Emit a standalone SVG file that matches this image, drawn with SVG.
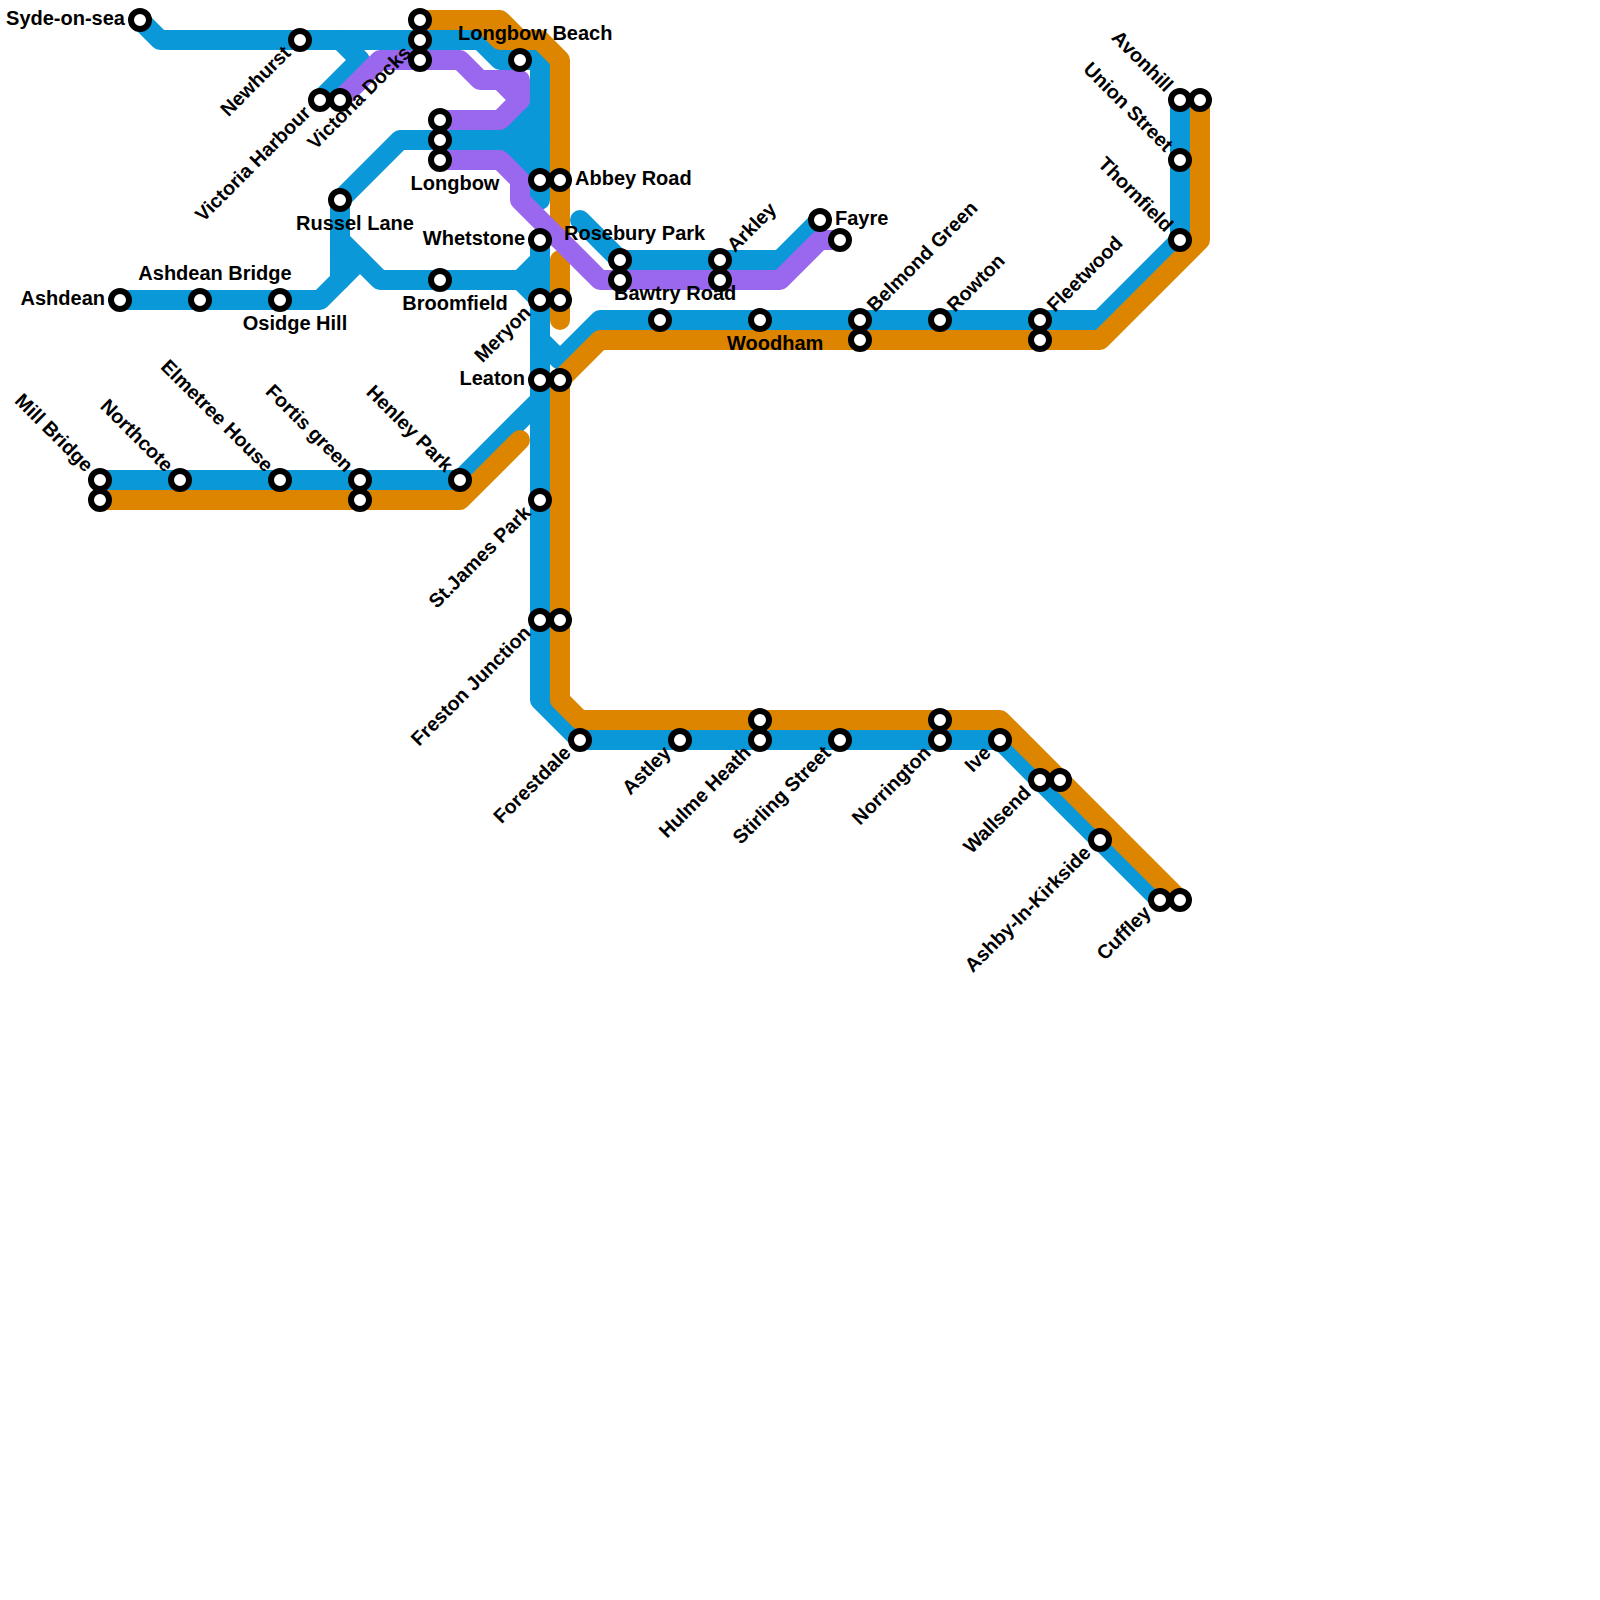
<svg xmlns="http://www.w3.org/2000/svg" width="1600" height="1600" viewBox="0 0 1600 1600">
<style>
.l{fill:none;stroke-width:20;stroke-linecap:round;stroke-linejoin:round}
.b{stroke:#0a98d8}.o{stroke:#de8500}.p{stroke:#9a68ee}
circle{fill:#fff;stroke:#000;stroke-width:6}
text{font-family:"Liberation Sans",Arial,sans-serif;font-weight:700;font-size:20px;fill:#000}
text[transform]{font-size:19.7px}
.e{text-anchor:end}.m{text-anchor:middle}
</style>
<rect width="1600" height="1600" fill="#fff"/>
<g id="connectors">
<g id="line-blue">
<path class="l b" d="M140,20 L160,40 H480 L500,60 H540 V200"/>
<path class="l b" d="M340,40 L360,60 L320,100"/>
<path class="l b" d="M340,200 L400,140 H540"/>
<path class="l b" d="M500,140 L540,100"/>
<path class="l b" d="M500,140 L540,180"/>
<path d="M510,120 L535,95 V185 L510,150 Z" fill="#0a98d8"/>
<path class="l b" d="M120,300 H320 L360,260"/>
<path class="l b" d="M340,200 V280"/>
<path class="l b" d="M340,240 L380,280 H520 L540,260"/>
<path class="l b" d="M520,280 L540,300"/>
<path class="l b" d="M540,240 V700 L580,740 H1000 L1160,900"/>
<path class="l b" d="M100,480 H460 L540,400"/>
<path class="l b" d="M540,340 L560,360 L600,320 H1100 L1180,240 V100"/>
<path class="l b" d="M580,220 L620,260 H780 L820,220"/>
</g>
<g id="line-orange">
<path class="l o" d="M420,20 H500 L520,40 H540 L560,60 V240"/>
<path class="l o" d="M480,20 L500,40 H540"/>
<path class="l o" d="M560,260 V320"/>
<path class="l o" d="M100,500 H460 L520,440"/>
<path class="l o" d="M1200,100 V240 L1100,340 H600 L560,380 V700 L580,720 H1000 L1180,900"/>
</g>
<g id="line-purple">
<path class="l p" d="M340,100 L380,60 H460 L480,80 H500 L520,100 L500,120 H440"/>
<path class="l p" d="M500,80 H520 V100"/>
<path class="l p" d="M440,160 H500 L520,180 V200 L600,280 H780 L820,240 H840"/>
</g>
</g>
<g id="stations">
<g id="syde-on-sea"><circle cx="140" cy="20" r="9"/><text class="e" x="125" y="25">Syde-on-sea</text></g>
<g id="newhurst"><circle cx="300" cy="40" r="9"/><text class="e" x="292" y="54" transform="rotate(-45 292 54)">Newhurst</text></g>
<g id="victoria-harbour"><circle cx="320" cy="100" r="9"/><text class="e" x="312" y="114" transform="rotate(-45 312 114)">Victoria Harbour</text></g>
<g id="victoria-docks"><circle cx="340" cy="100" r="9"/><text class="e" x="412" y="54" transform="rotate(-45 412 54)">Victoria Docks</text></g>
<g id="top-interchange"><circle cx="420" cy="20" r="9"/><circle cx="420" cy="40" r="9"/><circle cx="420" cy="60" r="9"/></g>
<g id="longbow-beach"><circle cx="520" cy="60" r="9"/><text x="458" y="40">Longbow Beach</text></g>
<g id="longbow"><circle cx="440" cy="120" r="9"/><circle cx="440" cy="140" r="9"/><circle cx="440" cy="160" r="9"/><text class="m" x="455" y="190">Longbow</text></g>
<g id="abbey-road"><circle cx="540" cy="180" r="9"/><circle cx="560" cy="180" r="9"/><text x="575" y="185">Abbey Road</text></g>
<g id="russel-lane"><circle cx="340" cy="200" r="9"/><text class="m" x="355" y="230">Russel Lane</text></g>
<g id="whetstone"><circle cx="540" cy="240" r="9"/><text class="e" x="525" y="245">Whetstone</text></g>
<g id="broomfield"><circle cx="440" cy="280" r="9"/><text class="m" x="455" y="310">Broomfield</text></g>
<g id="meryon"><circle cx="540" cy="300" r="9"/><circle cx="560" cy="300" r="9"/><text class="e" x="532" y="314" transform="rotate(-45 532 314)">Meryon</text></g>
<g id="ashdean"><circle cx="120" cy="300" r="9"/><text class="e" x="105" y="305">Ashdean</text></g>
<g id="ashdean-bridge"><circle cx="200" cy="300" r="9"/><text class="m" x="215" y="280">Ashdean Bridge</text></g>
<g id="osidge-hill"><circle cx="280" cy="300" r="9"/><text class="m" x="295" y="330">Osidge Hill</text></g>
<g id="leaton"><circle cx="540" cy="380" r="9"/><circle cx="560" cy="380" r="9"/><text class="e" x="525" y="385">Leaton</text></g>
<g id="mill-bridge"><circle cx="100" cy="480" r="9"/><circle cx="100" cy="500" r="9"/><text class="e" x="85" y="473" transform="rotate(45 85 473)">Mill Bridge</text></g>
<g id="northcote"><circle cx="180" cy="480" r="9"/><text class="e" x="165" y="473" transform="rotate(45 165 473)">Northcote</text></g>
<g id="elmetree-house"><circle cx="280" cy="480" r="9"/><text class="e" x="265" y="473" transform="rotate(45 265 473)">Elmetree House</text></g>
<g id="fortis-green"><circle cx="360" cy="480" r="9"/><circle cx="360" cy="500" r="9"/><text class="e" x="345" y="473" transform="rotate(45 345 473)">Fortis green</text></g>
<g id="henley-park"><circle cx="460" cy="480" r="9"/><text class="e" x="445" y="473" transform="rotate(45 445 473)">Henley Park</text></g>
<g id="st-james-park"><circle cx="540" cy="500" r="9"/><text class="e" x="532" y="514" transform="rotate(-45 532 514)">St.James Park</text></g>
<g id="freston-junction"><circle cx="540" cy="620" r="9"/><circle cx="560" cy="620" r="9"/><text class="e" x="532" y="634" transform="rotate(-45 532 634)">Freston Junction</text></g>
<g id="forestdale"><circle cx="580" cy="740" r="9"/><text class="e" x="572" y="754" transform="rotate(-45 572 754)">Forestdale</text></g>
<g id="astley"><circle cx="680" cy="740" r="9"/><text class="e" x="672" y="754" transform="rotate(-45 672 754)">Astley</text></g>
<g id="hulme-heath"><circle cx="760" cy="720" r="9"/><circle cx="760" cy="740" r="9"/><text class="e" x="752" y="754" transform="rotate(-45 752 754)">Hulme Heath</text></g>
<g id="stirling-street"><circle cx="840" cy="740" r="9"/><text class="e" x="832" y="754" transform="rotate(-45 832 754)">Stirling Street</text></g>
<g id="norrington"><circle cx="940" cy="720" r="9"/><circle cx="940" cy="740" r="9"/><text class="e" x="932" y="754" transform="rotate(-45 932 754)">Norrington</text></g>
<g id="ive"><circle cx="1000" cy="740" r="9"/><text class="e" x="992" y="754" transform="rotate(-45 992 754)">Ive</text></g>
<g id="wallsend"><circle cx="1040" cy="780" r="9"/><circle cx="1060" cy="780" r="9"/><text class="e" x="1032" y="794" transform="rotate(-45 1032 794)">Wallsend</text></g>
<g id="ashby-in-kirkside"><circle cx="1100" cy="840" r="9"/><text class="e" x="1092" y="854" transform="rotate(-45 1092 854)">Ashby-In-Kirkside</text></g>
<g id="cuffley"><circle cx="1160" cy="900" r="9"/><circle cx="1180" cy="900" r="9"/><text class="e" x="1152" y="914" transform="rotate(-45 1152 914)">Cuffley</text></g>
<g id="rosebury-park"><circle cx="620" cy="260" r="9"/><circle cx="620" cy="280" r="9"/><text x="564" y="240">Rosebury Park</text></g>
<g id="arkley"><circle cx="720" cy="260" r="9"/><circle cx="720" cy="280" r="9"/><text x="735" y="253" transform="rotate(-45 735 253)">Arkley</text></g>
<g id="fayre"><circle cx="820" cy="220" r="9"/><circle cx="840" cy="240" r="9"/><text x="835" y="225">Fayre</text></g>
<g id="bawtry-road"><circle cx="660" cy="320" r="9"/><text x="614" y="300">Bawtry Road</text></g>
<g id="woodham"><circle cx="760" cy="320" r="9"/><text x="727" y="350">Woodham</text></g>
<g id="belmond-green"><circle cx="860" cy="320" r="9"/><circle cx="860" cy="340" r="9"/><text x="875" y="313" transform="rotate(-45 875 313)">Belmond Green</text></g>
<g id="rowton"><circle cx="940" cy="320" r="9"/><text x="955" y="313" transform="rotate(-45 955 313)">Rowton</text></g>
<g id="fleetwood"><circle cx="1040" cy="320" r="9"/><circle cx="1040" cy="340" r="9"/><text x="1055" y="313" transform="rotate(-45 1055 313)">Fleetwood</text></g>
<g id="thornfield"><circle cx="1180" cy="240" r="9"/><text class="e" x="1165" y="233" transform="rotate(45 1165 233)">Thornfield</text></g>
<g id="union-street"><circle cx="1180" cy="160" r="9"/><text class="e" x="1165" y="153" transform="rotate(45 1165 153)">Union Street</text></g>
<g id="avonhill"><circle cx="1180" cy="100" r="9"/><circle cx="1200" cy="100" r="9"/><text class="e" x="1165" y="93" transform="rotate(45 1165 93)">Avonhill</text></g>
</g>
</svg>
